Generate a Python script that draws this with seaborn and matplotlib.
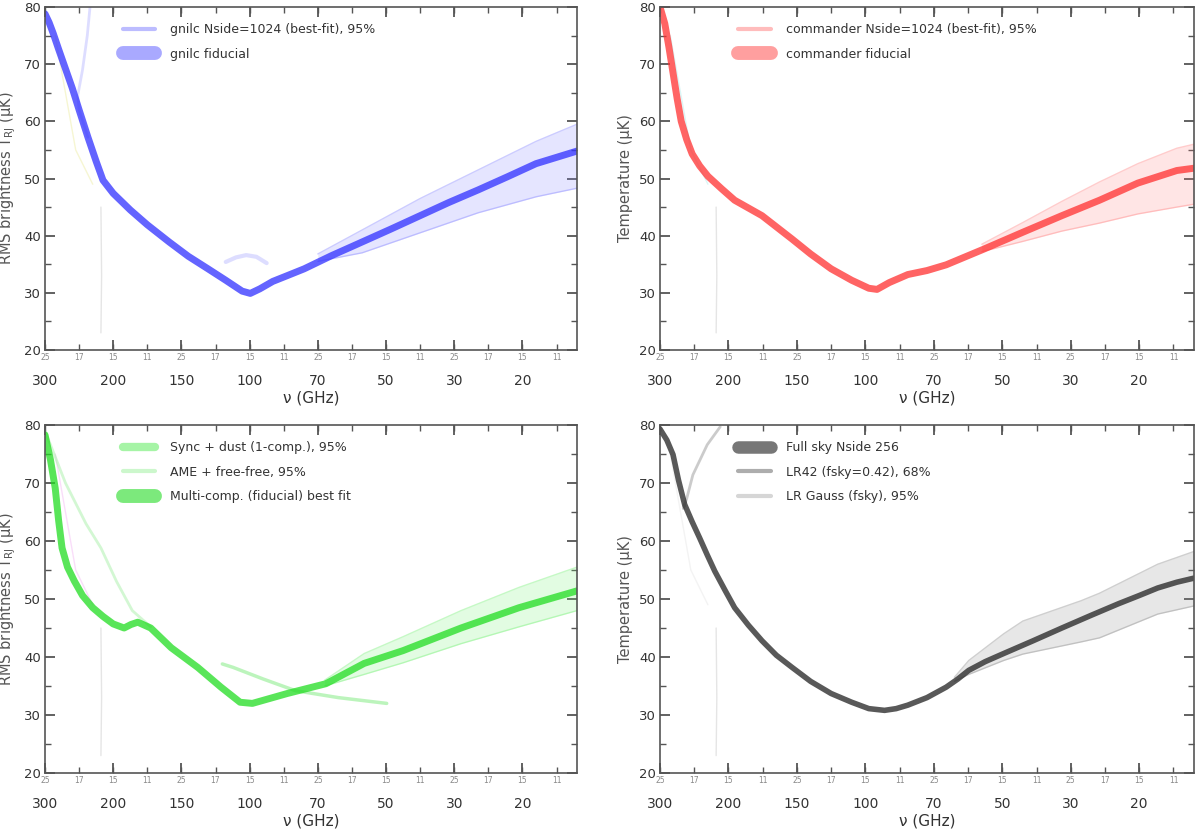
import numpy as np
import pandas as pd
import matplotlib
matplotlib.use("Agg")
import matplotlib.pyplot as plt
import seaborn as sns
from matplotlib.lines import Line2D
from matplotlib.ticker import MultipleLocator

# ---------------- data ----------------
x_tick_pos = [0, 1, 2, 3, 4, 5, 6, 7]
x_tick_labels = ["300", "200", "150", "100", "70", "50", "30", "20"]
x_minor_pos = [0, 0.5, 1, 1.5, 2, 2.5, 3, 3.5, 4, 4.5, 5, 5.5, 6, 6.5, 7, 7.5]
x_minor_labels = ["25", "17", "15", "11", "25", "17", "15", "11",
                  "25", "17", "15", "11", "25", "17", "15", "11"]
y_ticks = [20, 30, 40, 50, 60, 70, 80]

# top-left (blue)
blue_x = [0.0, 0.06, 0.12, 0.20, 0.30, 0.40, 0.50, 0.63, 0.75, 0.85, 1.0, 1.25, 1.5, 1.82, 2.1, 2.39,
          2.65, 2.89, 3.01, 3.15, 3.34, 3.55, 3.80, 4.2, 4.65, 5.08, 5.50, 5.92, 6.35, 6.78, 7.20, 7.50, 7.80]
blue_y = [78.8, 77.3, 75.4, 72.6, 69.2, 65.8, 62.0, 57.2, 53.0, 49.7, 47.4, 44.5, 41.9, 38.9, 36.4, 34.2,
          32.2, 30.3, 29.9, 30.7, 32.0, 33.0, 34.2, 36.5, 38.9, 41.2, 43.5, 45.8, 48.0, 50.3, 52.6, 53.7, 54.8]
blue_thin_x = [0.66, 0.62, 0.55, 0.48, 0.50, 0.63]
blue_thin_y = [80.0, 75.0, 69.0, 64.5, 62.0, 57.2]
blue_blob_x = [2.65, 2.80, 2.95, 3.10, 3.25]
blue_blob_y = [35.4, 36.2, 36.6, 36.3, 35.2]
blue_band_x = [4.0, 4.65, 5.50, 6.35, 7.20, 7.80]
blue_band_lo = [35.5, 37.0, 40.5, 44.0, 46.8, 48.3]
blue_band_hi = [36.8, 41.0, 46.5, 51.5, 56.5, 59.5]

# top-right (red)
red_x = [0.0, 0.07, 0.13, 0.19, 0.25, 0.31, 0.39, 0.47, 0.58, 0.70, 0.9, 1.09, 1.49, 1.93, 2.2, 2.50,
         2.8, 3.05, 3.17, 3.35, 3.62, 3.9, 4.18, 4.74, 5.30, 5.87, 6.42, 6.98, 7.55, 7.80]
red_y = [80.0, 77.1, 73.0, 68.5, 64.0, 60.0, 56.8, 54.3, 52.2, 50.4, 48.2, 46.2, 43.5, 39.4, 36.8, 34.2,
         32.2, 30.8, 30.6, 31.8, 33.2, 33.9, 34.9, 37.7, 40.6, 43.5, 46.2, 49.2, 51.4, 51.8]
red_band_x = [4.7, 5.30, 5.87, 6.42, 6.98, 7.55, 7.80]
red_band_lo = [37.2, 39.0, 40.8, 42.2, 43.8, 45.0, 45.5]
red_band_hi = [38.5, 42.3, 46.0, 49.4, 52.6, 55.3, 56.0]

# bottom-left (green)
green_x = [0.0, 0.08, 0.15, 0.20, 0.25, 0.33, 0.43, 0.55, 0.70, 0.85, 1.0, 1.16, 1.26, 1.36, 1.55, 1.85,
           2.24, 2.58, 2.86, 3.04, 3.25, 3.55, 4.12, 4.68, 5.25, 6.10, 6.95, 7.80]
green_y = [78.3, 74.0, 69.1, 63.5, 58.8, 55.5, 53.1, 50.6, 48.5, 47.0, 45.7, 45.0, 45.6, 46.0, 45.0, 41.6,
           38.2, 34.8, 32.2, 32.0, 32.7, 33.7, 35.4, 38.9, 41.1, 45.0, 48.5, 51.4]
green_thin_x = [0.0, 0.30, 0.60, 0.82, 1.05, 1.28, 1.55]
green_thin_y = [79.0, 70.0, 63.0, 58.8, 53.0, 48.0, 45.2]
green_alt_x = [2.60, 2.76, 3.20, 3.67, 4.30, 5.01]
green_alt_y = [38.8, 38.2, 36.2, 34.2, 33.0, 32.0]
green_band_x = [4.1, 4.68, 5.25, 6.10, 6.95, 7.80]
green_band_lo = [35.0, 37.0, 39.0, 42.3, 45.2, 48.0]
green_band_hi = [36.0, 40.6, 43.5, 48.0, 52.0, 55.5]

# bottom-right (black)
black_x = [0.0, 0.1, 0.19, 0.27, 0.36, 0.47, 0.58, 0.69, 0.80, 0.95, 1.09, 1.29, 1.49, 1.7, 1.93, 2.2,
           2.50, 2.8, 3.05, 3.28, 3.45, 3.62, 3.9, 4.18, 4.35, 4.51, 4.75, 5.02, 5.45, 5.87, 6.3, 6.70,
           7.0, 7.27, 7.55, 7.80]
black_y = [79.3, 77.4, 74.9, 70.5, 66.3, 63.3, 60.5, 57.6, 54.8, 51.5, 48.5, 45.5, 42.8, 40.3, 38.2, 35.8,
           33.7, 32.2, 31.1, 30.8, 31.1, 31.7, 33.0, 34.8, 36.2, 37.7, 39.2, 40.6, 42.8, 45.0, 47.2, 49.2,
           50.6, 51.9, 52.9, 53.6]
grey_thin_x = [0.88, 0.69, 0.48, 0.39, 0.34, 0.36]
grey_thin_y = [79.7, 76.6, 71.4, 67.3, 65.6, 66.3]
black_band_x = [4.30, 4.51, 5.02, 5.30, 6.15, 6.42, 7.27, 7.80]
black_band_lo = [35.8, 37.0, 39.4, 40.5, 42.6, 43.3, 47.4, 48.8]
black_band_hi = [36.5, 39.4, 44.0, 46.2, 49.7, 51.0, 56.0, 58.2]

# faint auxiliary curves near the left edge
aux_vert_x = [0.82, 0.83, 0.82]
aux_vert_y = [45.0, 33.0, 23.0]
aux_left_x = [0.15, 0.30, 0.45, 0.70]
aux_left_y = [75.0, 65.0, 55.0, 49.0]

legend_labels = {
    "tl": ["gnilc Nside=1024 (best-fit), 95%", "gnilc fiducial"],
    "tr": ["commander Nside=1024 (best-fit), 95%", "commander fiducial"],
    "bl": ["Sync + dust (1-comp.), 95%", "AME + free-free, 95%", "Multi-comp. (fiducial) best fit"],
    "br": ["Full sky Nside 256", "LR42 (fsky=0.42), 68%", "LR Gauss (fsky), 95%"],
}

# ---------------- plotting ----------------
sns.set_theme(style="ticks")
plt.rcParams["font.family"] = ["DejaVu Sans"]

fig = plt.figure(figsize=(12, 8.4), dpi=100)
W, H = 1200, 840

def add_ax(l, r, t, b):
    return fig.add_axes([l / W, 1 - b / H, (r - l) / W, (b - t) / H])

ax_tl = add_ax(45, 577, 7, 350)
ax_tr = add_ax(660, 1194, 7, 350)
ax_bl = add_ax(45, 577, 425, 773)
ax_br = add_ax(660, 1194, 425, 773)

TXT = "#333333"


def style(ax, ylabel):
    ax.set_xlim(0, 7.8)
    ax.set_ylim(20, 80)
    ax.xaxis.remove_overlapping_locs = False
    ax.set_xticks(x_tick_pos)
    ax.set_xticklabels(x_tick_labels, fontsize=10, color=TXT)
    ax.set_xticks(x_minor_pos, minor=True)
    ax.set_xticklabels(x_minor_labels, minor=True, fontsize=5.5, color="#888888")
    ax.set_yticks(y_ticks)
    ax.set_yticklabels([str(v) for v in y_ticks], fontsize=9.5, color=TXT)
    ax.yaxis.set_minor_locator(MultipleLocator(5))
    ax.tick_params(which="both", direction="in", top=True, right=True, color="#555555")
    ax.tick_params(which="major", length=7, width=1.3)
    ax.tick_params(which="minor", length=4, width=1.0)
    ax.tick_params(axis="x", which="major", pad=17)
    ax.tick_params(axis="x", which="minor", pad=2)
    ax.tick_params(axis="y", which="major", pad=3)
    for s in ax.spines.values():
        s.set_color("#555555")
        s.set_linewidth(1.2)
    ax.set_xlabel("ν (GHz)", fontsize=11, labelpad=2, color=TXT)
    ax.set_ylabel(ylabel, fontsize=10.5, labelpad=4, color="#555555")


def line(ax, x, y, color, lw, alpha):
    sns.lineplot(x=x, y=y, ax=ax, color=color, lw=lw, alpha=alpha, sort=False, estimator=None)


def faint(ax, color):
    line(ax, aux_left_x, aux_left_y, color, 1.0, 0.35)
    line(ax, aux_vert_x, aux_vert_y, "#cccccc", 1.0, 0.5)


def band(ax, bx, lo, hi, color):
    ax.fill_between(bx, lo, hi, color=color, alpha=0.2, lw=0)
    line(ax, bx, lo, color, 1.0, 0.4)
    line(ax, bx, hi, color, 1.0, 0.4)


def leg(ax, handles, labels):
    ax.legend(handles, labels, loc="upper left", bbox_to_anchor=(0.125, 0.985), frameon=False,
              fontsize=9, handlelength=2.6, handletextpad=1.2, labelspacing=0.9, labelcolor=TXT)


# top-left
ax = ax_tl
faint(ax, "#e6e680")
band(ax, blue_band_x, blue_band_lo, blue_band_hi, "#8080ff")
line(ax, blue_thin_x, blue_thin_y, "#a0a0ff", 2.0, 0.35)
line(ax, blue_blob_x, blue_blob_y, "#a0a0ff", 3.0, 0.35)
line(ax, blue_x, blue_y, "#3030ff", 5, 0.75)
style(ax, "RMS brightness T$_{\\rm RJ}$ (μK)")
leg(ax, [Line2D([], [], color="#a0a0ff", lw=3, alpha=0.7), Line2D([], [], color="#7070ff", lw=10, alpha=0.6)],
    legend_labels["tl"])

# top-right
ax = ax_tr
faint(ax, "#99e6e6")
band(ax, red_band_x, red_band_lo, red_band_hi, "#ff8080")
line(ax, red_x, red_y, "#ff3030", 5, 0.75)
style(ax, "Temperature (μK)")
leg(ax, [Line2D([], [], color="#ffa0a0", lw=3, alpha=0.7), Line2D([], [], color="#ff6060", lw=10, alpha=0.6)],
    legend_labels["tr"])

# bottom-left
ax = ax_bl
faint(ax, "#f0a0f0")
band(ax, green_band_x, green_band_lo, green_band_hi, "#70f070")
line(ax, green_thin_x, green_thin_y, "#a8f0a8", 2.0, 0.5)
line(ax, green_alt_x, green_alt_y, "#90ee90", 2.5, 0.6)
line(ax, green_x, green_y, "#22dd22", 5, 0.75)
style(ax, "RMS brightness T$_{\\rm RJ}$ (μK)")
leg(ax, [Line2D([], [], color="#80f080", lw=6, alpha=0.7), Line2D([], [], color="#c0f5c0", lw=3, alpha=0.8),
         Line2D([], [], color="#44e044", lw=10, alpha=0.7)], legend_labels["bl"])

# bottom-right
ax = ax_br
faint(ax, "#dddddd")
band(ax, black_band_x, black_band_lo, black_band_hi, "#888888")
line(ax, grey_thin_x, grey_thin_y, "#999999", 2.0, 0.5)
line(ax, black_x, black_y, "#222222", 4, 0.75)
style(ax, "Temperature (μK)")
leg(ax, [Line2D([], [], color="#555555", lw=9, alpha=0.8), Line2D([], [], color="#999999", lw=3, alpha=0.8),
         Line2D([], [], color="#cccccc", lw=3, alpha=0.8)], legend_labels["br"])

fig.savefig("out.png", dpi=100)
